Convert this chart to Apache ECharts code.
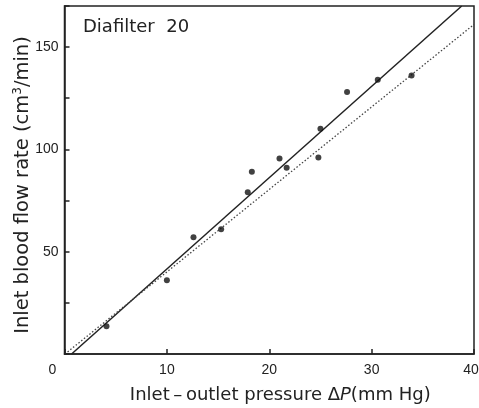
<!DOCTYPE html>
<html>
<head>
<meta charset="utf-8">
<script src="https://cdn.jsdelivr.net/npm/echarts@6/dist/echarts.min.js"></script>
<style>html,body{margin:0;padding:0;background:#fff}#c{width:479px;height:408px}</style>
</head>
<body>
<div id="c"></div>
<script>
// Measured points: [pressure ΔP (mm Hg), inlet blood flow rate (cm3/min)]
var pointsX = [4.1, 10.0, 12.6, 15.3, 17.9, 18.3, 21.0, 21.7, 24.8, 25.0, 27.6, 30.6, 33.9];
var pointsY = [13.5, 36, 57, 61, 79, 89, 95.5, 91, 96, 110, 128, 134, 136];
// Fitted lines (endpoints)
var solidX = [0.69, 38.8];
var solidY = [0, 170];
var dottedX = [0.3, 40];
var dottedY = [1, 161];
var xTicks = [0, 10, 20, 30, 40];
var yTicks = [50, 100, 150];
var titleText = 'Diafilter  20';

function zip(a, b) { return a.map(function (v, i) { return [v, b[i]]; }); }

var ink = '#222';
var font = 'Liberation Sans, DejaVu Sans, sans-serif';
var wfont = 'DejaVu Sans, sans-serif';
var chart = echarts.init(document.getElementById('c'), null, {renderer: 'canvas'});
chart.setOption({
  animation: false,
  backgroundColor: '#fff',
  grid: {left: 64.5, right: 5, top: 6, bottom: 54, containLabel: false, outerBoundsMode: 'none',
    show: true, borderColor: ink, borderWidth: 1.5, backgroundColor: 'transparent'},
  graphic: [{
    type: 'text', left: 83, top: 18,
    style: {text: titleText, font: '18px ' + wfont, fill: ink}
  }],
  xAxis: {
    type: 'value', min: 0, max: 40, interval: 10,
    axisLine: {show: true, lineStyle: {color: ink, width: 1.5}},
    axisTick: {show: true, inside: true, length: 5, lineStyle: {color: ink, width: 1.5}},
    splitLine: {show: false},
    axisLabel: {
      color: ink, fontSize: 14, fontFamily: font, margin: 9,
      formatter: function (v) {
        if (v === 0) return '{z|0}';
        if (v === 40) return '{f|40}';
        return xTicks.indexOf(v) >= 0 ? String(v) : '';
      },
      rich: {
        z: {fontSize: 14, fontFamily: font, color: ink, padding: [0, 24, 0, 0]},
        f: {fontSize: 14, fontFamily: font, color: ink, padding: [0, 6, 0, 0]}
      }
    },
    name: '{a|Inlet\u2009\u2013\u2009outlet pressure \u0394}{i|P}{a|(mm Hg)}',
    nameLocation: 'middle', nameGap: 32,
    nameTextStyle: {
      padding: [0, 0, 0, 22],
      rich: {
        a: {fontSize: 18, fontFamily: wfont, color: ink},
        i: {fontSize: 18, fontFamily: wfont, color: ink, fontStyle: 'italic'}
      }
    }
  },
  yAxis: {
    type: 'value', min: 0, max: 170, interval: 25,
    axisLine: {show: true, lineStyle: {color: ink, width: 1.5}},
    axisTick: {show: true, inside: true, length: 5, lineStyle: {color: ink, width: 1.5}},
    splitLine: {show: false},
    axisLabel: {
      color: ink, fontSize: 14, fontFamily: font, margin: 6,
      formatter: function (v) { return yTicks.indexOf(v) >= 0 ? String(v) : ''; }
    },
    name: '{a|Inlet blood flow rate (cm}{s|3}{a|/min)}',
    nameLocation: 'middle', nameGap: 31, nameRotate: 90, nameMoveOverlap: false,
    nameTextStyle: {
      padding: [0, 10, 0, 0],
      rich: {
        a: {fontSize: 19.5, fontFamily: wfont, color: ink},
        s: {fontSize: 12, fontFamily: wfont, color: ink, verticalAlign: 'top', padding: [0, 0, 10, 0]}
      }
    }
  },
  series: [
    {
      type: 'line', data: zip(solidX, solidY), showSymbol: false, symbol: 'none',
      lineStyle: {color: ink, width: 1.5}, z: 2
    },
    {
      type: 'line', data: zip(dottedX, dottedY), showSymbol: false, symbol: 'none',
      lineStyle: {color: '#444', width: 1.3, type: [1.5, 2]}, z: 2
    },
    {
      type: 'scatter', data: zip(pointsX, pointsY), symbol: 'circle', symbolSize: 6,
      itemStyle: {color: '#111'}, z: 3
    }
  ]
});
</script>
</body>
</html>
